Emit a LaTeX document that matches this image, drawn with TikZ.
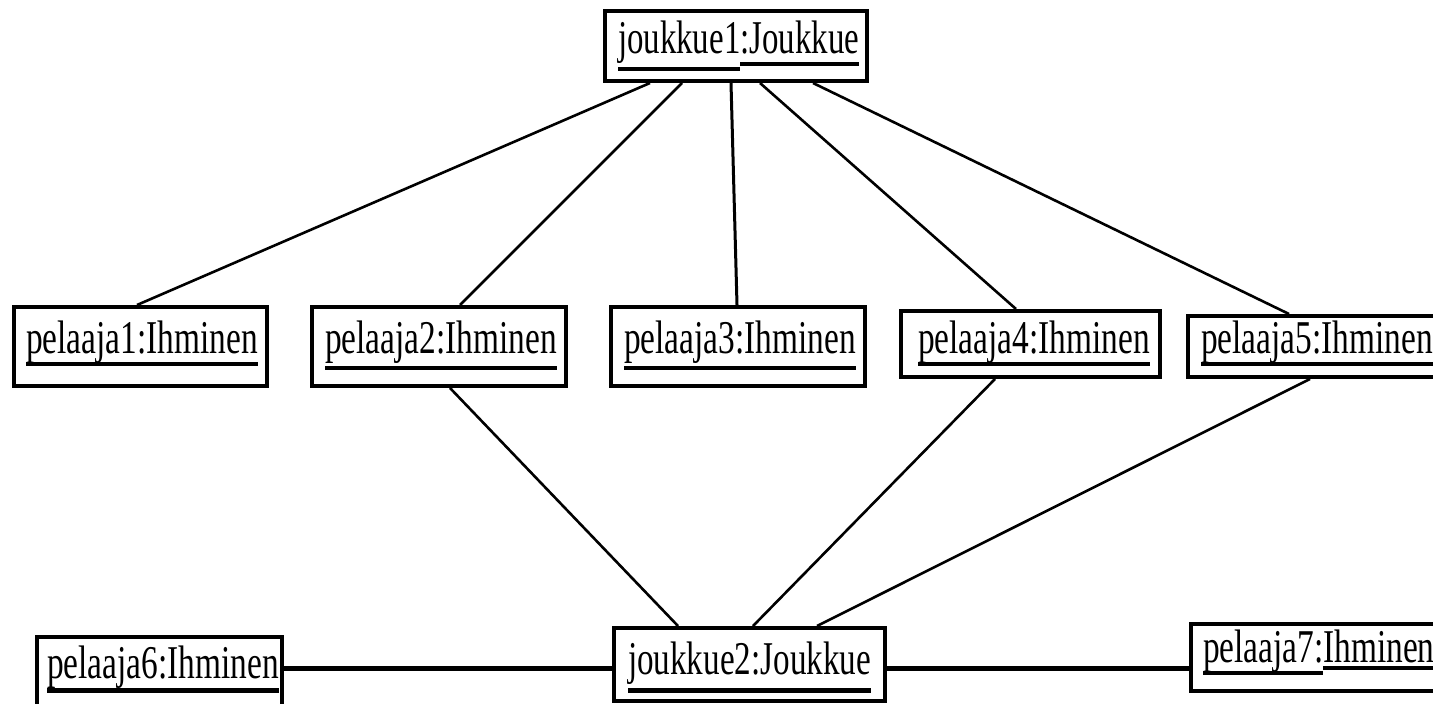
\documentclass[tikz,border=0pt]{standalone}
\usepackage{graphicx}
\usepackage{fontspec}
\setmainfont{Liberation Serif}
\usetikzlibrary{calc}
\newcommand{\ulbox}[3][4pt]{\setbox0\hbox{#3}\rlap{\rule[-#2]{\wd0}{#1}}\box0}
\newcommand{\lbl}[2][0.71]{\scalebox{#1}[1]{\fontsize{47}{50}\selectfont #2}}
\tikzset{
  objbox/.style={draw, line width=4pt, inner sep=0pt},
  lbltext/.style={anchor=base west, inner sep=0pt, outer sep=0pt},
  link/.style={line width=2.6pt},
  vlink/.style={line width=3pt},
  hlink/.style={line width=4.6pt}
}
\begin{document}
\begin{tikzpicture}[x=1pt,y=-1pt]
\useasboundingbox (0,0) rectangle (1433,704);
\fill[white] (0,0) rectangle (1433,704);
% boxes
\node[objbox, minimum width=262pt, minimum height=70pt] (j1) at (736,46) {};
\node[objbox, minimum width=253pt, minimum height=79pt] (p1) at (140.5,346.5) {};
\node[objbox, minimum width=254pt, minimum height=79pt] (p2) at (439,346.5) {};
\node[objbox, minimum width=254pt, minimum height=79pt] (p3) at (738,346.5) {};
\node[objbox, minimum width=259pt, minimum height=66pt] (p4) at (1030.5,344) {};
\node[objbox, minimum width=248pt, minimum height=61pt] (p5) at (1312,346.5) {};
\node[objbox, minimum width=245pt, minimum height=71pt] (p6) at (159.5,672.5) {};
\node[objbox, minimum width=271pt, minimum height=73pt] (j2) at (749.5,664.5) {};
\node[objbox, minimum width=247pt, minimum height=67pt] (p7) at (1314.5,657.5) {};
% labels
\node[lbltext] (tj1) at (618,53) {\lbl[0.70]{\ulbox{18pt}{joukkue1}\ulbox{13pt}{:Joukkue}}};
\node[lbltext] (tp1) at (26,353) {\lbl{\ulbox{13pt}{pelaaja1:Ihminen}}};
\node[lbltext] (tp2) at (325,353) {\lbl{\ulbox{17pt}{pelaaja2:Ihminen}}};
\node[lbltext] (tp3) at (624,353) {\lbl{\ulbox{17pt}{pelaaja3:Ihminen}}};
\node[lbltext] (tp4) at (918,353) {\lbl{\ulbox{13pt}{pelaaja4:Ihminen}}};
\node[lbltext] (tp5) at (1201,353) {\lbl{\ulbox{13pt}{pelaaja5:Ihminen}}};
\node[lbltext] (tp6) at (47,678) {\lbl{\ulbox[5pt]{15pt}{pelaaja6:Ihminen}}};
\node[lbltext] (tj2) at (628,674) {\lbl[0.705]{\ulbox[5pt]{19pt}{joukkue2:Joukkue}}};
\node[lbltext] (tp7) at (1203,662) {\lbl{\ulbox{13pt}{pelaaja7:}\ulbox{8pt}{Ihminen}}};
% connectors
\draw[link] ($(j1.south)+(-86,0)$) -- ($(p1.north)+(-3.5,0)$);
\draw[link] ($(j1.south)+(-54,0)$) -- ($(p2.north)+(21,0)$);
\draw[vlink] ($(j1.south)+(-5,0)$) -- ($(p3.north)+(-1,0)$);
\draw[link] ($(j1.south)+(24,0)$) -- ($(p4.north)+(-14.5,0)$);
\draw[link] ($(j1.south)+(77,0)$) -- ($(p5.north)+(-23,0)$);
\draw[link] ($(p2.south)+(11,0)$) -- ($(j2.north)+(-71.5,0)$);
\draw[link] ($(p4.south)+(-35.5,0)$) -- ($(j2.north)+(3.5,0)$);
\draw[link] ($(p5.south)+(-2,0)$) -- ($(j2.north)+(67.5,0)$);
\draw[hlink] ($(p6.east)+(0,-4)$) -- ($(j2.west)+(0,4)$);
\draw[hlink] ($(j2.east)+(0,4)$) -- ($(p7.west)+(0,11)$);
\end{tikzpicture}
\end{document}
